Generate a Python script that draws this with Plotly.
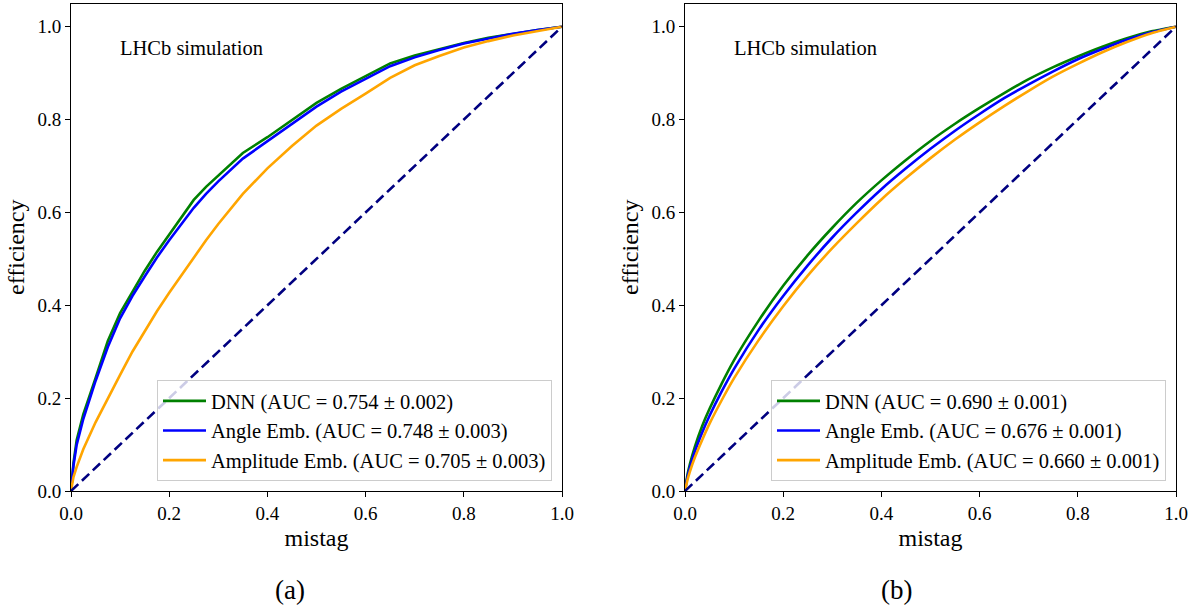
import plotly.graph_objects as go

# ---------------- data ----------------
labels_a = ["DNN (AUC = 0.754 ± 0.002)",
            "Angle Emb. (AUC = 0.748 ± 0.003)",
            "Amplitude Emb. (AUC = 0.705 ± 0.003)"]
labels_b = ["DNN (AUC = 0.690 ± 0.001)",
            "Angle Emb. (AUC = 0.676 ± 0.001)",
            "Amplitude Emb. (AUC = 0.660 ± 0.001)"]

mistag_a = [0, 0.005, 0.0116, 0.025, 0.05, 0.075, 0.1, 0.125, 0.15, 0.175, 0.2, 0.225,
            0.25, 0.275, 0.3, 0.35, 0.4, 0.45, 0.5, 0.55, 0.6, 0.65, 0.7, 0.75, 0.8,
            0.85, 0.9, 0.95, 1.0]
dnn_a = [0, 0.06, 0.11, 0.165, 0.243, 0.323, 0.383, 0.43, 0.474, 0.515, 0.552, 0.59,
         0.627, 0.655, 0.68, 0.728, 0.762, 0.799, 0.836, 0.866, 0.894, 0.921, 0.938,
         0.951, 0.965, 0.976, 0.985, 0.993, 1.0]
angle_a = [0, 0.055, 0.10, 0.155, 0.237, 0.31, 0.372, 0.42, 0.462, 0.503, 0.54, 0.575,
           0.61, 0.64, 0.667, 0.716, 0.754, 0.79, 0.828, 0.86, 0.888, 0.915, 0.934,
           0.95, 0.964, 0.975, 0.985, 0.993, 1.0]
ampl_a = [0, 0.03, 0.052, 0.09, 0.148, 0.2, 0.25, 0.3, 0.345, 0.387, 0.427, 0.465,
          0.503, 0.54, 0.575, 0.64, 0.695, 0.743, 0.787, 0.823, 0.856, 0.89, 0.917,
          0.937, 0.955, 0.969, 0.981, 0.991, 1.0]

mistag_b = [0, 0.005, 0.01, 0.02, 0.035, 0.05, 0.075, 0.1, 0.15, 0.2, 0.25, 0.3, 0.35,
            0.4, 0.45, 0.5, 0.55, 0.6, 0.65, 0.7, 0.75, 0.8, 0.85, 0.9, 0.95, 1.0]
dnn_b = [0, 0.035, 0.058, 0.095, 0.14, 0.177, 0.232, 0.282, 0.367, 0.442, 0.508, 0.567,
         0.621, 0.669, 0.713, 0.754, 0.791, 0.825, 0.857, 0.887, 0.913, 0.936, 0.957,
         0.975, 0.99, 1.0]
angle_b = [0, 0.030, 0.051, 0.085, 0.126, 0.162, 0.215, 0.263, 0.347, 0.420, 0.486,
           0.546, 0.600, 0.650, 0.695, 0.737, 0.776, 0.812, 0.846, 0.876, 0.904, 0.93,
           0.952, 0.972, 0.988, 1.0]
ampl_b = [0, 0.024, 0.042, 0.072, 0.11, 0.145, 0.196, 0.243, 0.325, 0.398, 0.464, 0.523,
          0.577, 0.628, 0.674, 0.717, 0.757, 0.794, 0.829, 0.862, 0.893, 0.92, 0.945,
          0.967, 0.986, 1.0]

diag = [0, 1]
tick_vals = [0, 0.2, 0.4, 0.6, 0.8, 1.0]
tick_text = ["0.0", "0.2", "0.4", "0.6", "0.8", "1.0"]
colors = ["#008000", "#0000ff", "#ffa500"]
diag_color = "#000080"

FONT = "Liberation Serif, Times New Roman, serif"
W, H = 1199, 608
LW = 2.6

fig = go.Figure()

for ys, lab, col in zip([dnn_a, angle_a, ampl_a], labels_a, colors):
    fig.add_trace(go.Scatter(x=mistag_a, y=ys, mode="lines", name=lab,
                             line=dict(color=col, width=LW),
                             xaxis="x", yaxis="y", legend="legend"))
fig.add_trace(go.Scatter(x=diag, y=diag, mode="lines", showlegend=False,
                         line=dict(color=diag_color, width=LW, dash="10px,5px"),
                         xaxis="x", yaxis="y"))

for ys, lab, col in zip([dnn_b, angle_b, ampl_b], labels_b, colors):
    fig.add_trace(go.Scatter(x=mistag_b, y=ys, mode="lines", name=lab,
                             line=dict(color=col, width=LW, shape="spline", smoothing=0.6),
                             xaxis="x2", yaxis="y2", legend="legend2"))
fig.add_trace(go.Scatter(x=diag, y=diag, mode="lines", showlegend=False,
                         line=dict(color=diag_color, width=LW, dash="10px,5px"),
                         xaxis="x2", yaxis="y2"))

ydom = [(H - 491) / H, (H - 3.5) / H]

def xax(domain, anchor):
    return dict(domain=domain, anchor=anchor, range=[0, 1], tickvals=tick_vals,
                ticktext=tick_text, ticks="outside", ticklen=5, tickcolor="black",
                showline=True, linecolor="black", linewidth=1, mirror=True,
                showgrid=False, zeroline=False, automargin=False,
                tickfont=dict(family=FONT, size=19, color="black"),
                title=dict(text="mistag", font=dict(family=FONT, size=24, color="black"),
                           standoff=6))

def yax(anchor):
    return dict(domain=ydom, anchor=anchor, range=[0, 1.05], tickvals=tick_vals,
                ticktext=tick_text, ticks="outside", ticklen=5, tickcolor="black",
                showline=True, linecolor="black", linewidth=1, mirror=True,
                showgrid=False, zeroline=False, automargin=False,
                tickfont=dict(family=FONT, size=19, color="black"),
                title=dict(text="efficiency", font=dict(family=FONT, size=24, color="black"),
                           standoff=6))

legend_common = dict(xanchor="right", yanchor="bottom", bgcolor="rgba(255,255,255,0.8)",
                     bordercolor="#cccccc", borderwidth=1, itemwidth=43,
                     font=dict(family=FONT, size=20.5, color="black"), tracegroupgap=0)

fig.update_layout(
    width=W, height=H,
    margin=dict(l=0, r=0, t=0, b=0, autoexpand=False),
    paper_bgcolor="white", plot_bgcolor="white",
    xaxis=xax([71 / W, 562 / W], "y"),
    yaxis=yax("x"),
    xaxis2=xax([685 / W, 1176 / W], "y2"),
    yaxis2=yax("x2"),
    legend=dict(x=552 / W, y=(H - 481) / H, **legend_common),
    legend2=dict(x=1166 / W, y=(H - 481) / H, **legend_common),
    annotations=[
        dict(text="LHCb simulation", x=0.095, y=0.955, xref="x", yref="y",
             xanchor="left", yanchor="middle", showarrow=False,
             font=dict(family=FONT, size=20.5, color="black")),
        dict(text="LHCb simulation", x=0.095, y=0.955, xref="x2", yref="y2",
             xanchor="left", yanchor="middle", showarrow=False,
             font=dict(family=FONT, size=20.5, color="black")),
        dict(text="(a)", x=290 / W, y=(H - 590) / H, xref="paper", yref="paper",
             xanchor="center", yanchor="middle", showarrow=False,
             font=dict(family=FONT, size=27, color="black")),
        dict(text="(b)", x=897 / W, y=(H - 590) / H, xref="paper", yref="paper",
             xanchor="center", yanchor="middle", showarrow=False,
             font=dict(family=FONT, size=27, color="black")),
    ],
)

fig.write_html("out.html", config={"displayModeBar": False},
               post_script="document.body.style.margin='0';document.body.style.overflow='hidden';")
